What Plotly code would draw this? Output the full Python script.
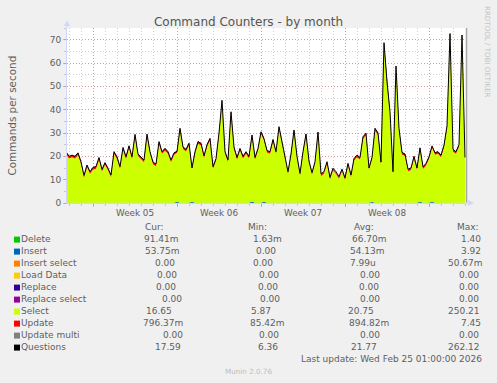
import plotly.graph_objects as go
import pandas as pd

# ---------------- data ----------------
questions = [
    22, 20, 20.5, 20, 21.5, 17.7, 11.8, 16.3, 13.4, 15.3,
    15.6, 19.5, 14.4, 17.3, 14.9, 12, 22, 19.8, 15.6, 23.8,
    19.8, 24.5, 19.8, 29.4, 21, 19.8, 18.4, 29.5, 22, 17.5,
    16.7, 26.3, 22, 23.4, 22, 18.4, 21.5, 22, 32, 24,
    23, 25.6, 15, 22, 26.3, 25.6, 20.2, 25, 27.7, 15.6,
    19, 30, 44, 22, 18.5, 39.1, 24, 19.5, 23.4, 20,
    22, 20, 29.1, 19.5, 23.4, 30.5, 27.5, 22.5, 22, 27.2,
    22, 32.7, 26, 20, 13.4, 21, 31.3, 20, 12.7, 22,
    29.6, 18, 13, 17.7, 30.4, 12.5, 13.5, 17.7, 11, 14.9,
    13.4, 11.3, 14.5, 10.8, 17, 12, 19.1, 20.5, 19.5, 28.4,
    29.9, 15, 19.5, 32, 30, 17.5, 68.7, 52, 39.1, 13.4,
    58.7, 32, 21.7, 21, 14.5, 15, 20, 15, 23.6, 15.5,
    17, 19.8, 24.3, 21.6, 22, 20.5, 24.8, 33, 72.6, 23,
    22, 25, 72, 19.5,
]
select = [
    21, 19, 19.5, 19, 20.5, 16.7, 10.8, 15.3, 12.4, 14.3,
    14.6, 18.5, 13.4, 16.3, 13.9, 11, 21, 18.8, 14.6, 22.8,
    18.8, 23.5, 18.8, 28.4, 20, 18.8, 17.4, 28.5, 21, 16.5,
    15.7, 25.3, 21, 22.4, 21, 17.4, 20.5, 21, 31, 23,
    22, 24.6, 14, 21, 25.3, 24.6, 19.2, 24, 26.7, 14.6,
    18, 29, 43, 21, 17.5, 38.1, 23, 18.5, 22.4, 19,
    21, 19, 28.1, 18.5, 22.4, 29.5, 26.5, 21.5, 21, 26.2,
    21, 31.7, 25, 19, 12.4, 20, 30.3, 19, 11.7, 21,
    28.6, 17, 12, 16.7, 29.4, 11.5, 12.5, 16.7, 10, 13.9,
    12.4, 10.3, 13.5, 9.8, 16, 11, 18.1, 19.5, 18.5, 27.4,
    28.9, 14, 18.5, 31, 29, 16.5, 67.7, 51, 38.1, 12.4,
    57.7, 31, 20.7, 20, 13.5, 14, 19, 14, 22.6, 14.5,
    16, 18.8, 23.3, 20.6, 21, 19.5, 23.8, 32, 71.6, 22,
    21, 24, 71, 18.5,
]
update = [
    0.9, 0.8, 0.9, 1.0, 0.9, 0.8, 0.7, 0.9, 0.8, 0.8,
    0.9, 0.9, 0.8, 0.9, 0.8, 0.7, 1.0, 0.9, 0.8, 1.0,
    0.9, 1.0, 0.9, 1.1, 0.9, 0.9, 0.8, 1.1, 0.9, 0.8,
    0.8, 1.0, 0.9, 1.0, 0.9, 0.8, 0.9, 0.9, 1.1, 1.0,
    0.9, 1.0, 0.8, 0.9, 1.0, 1.0, 0.9, 1.0, 1.0, 0.8,
    0.9, 1.0, 1.2, 0.9, 0.8, 1.1, 1.0, 0.9, 0.9, 0.9,
    0.9, 0.9, 1.0, 0.9, 0.9, 1.1, 1.0, 0.9, 0.9, 1.0,
    0.9, 1.1, 1.0, 0.9, 0.7, 0.9, 1.0, 0.9, 0.7, 0.9,
    1.0, 0.8, 0.7, 0.8, 1.0, 0.7, 0.7, 0.8, 0.7, 0.8,
    0.7, 0.7, 0.8, 0.7, 0.8, 0.7, 0.8, 0.9, 0.8, 0.9,
    1.0, 0.8, 0.9, 1.0, 1.0, 0.8, 1.1, 1.0, 0.9, 0.7,
    1.0, 0.9, 0.9, 0.9, 0.8, 0.8, 0.9, 0.8, 0.9, 0.8,
    0.8, 0.9, 1.0, 0.9, 0.9, 0.9, 0.9, 1.0, 1.2, 0.9,
    0.9, 0.9, 1.1, 0.8,
]
delete = [
    0.07, 0.06, 0.07, 0.08, 0.07, 0.06, 0.05, 0.07, 0.06, 0.06,
    0.07, 0.07, 0.06, 0.07, 0.06, 0.05, 0.08, 0.07, 0.06, 0.08,
    0.07, 0.08, 0.07, 0.09, 0.07, 0.07, 0.06, 0.09, 0.07, 0.06,
    0.06, 0.08, 0.07, 0.08, 0.07, 0.06, 0.07, 0.07, 0.09, 0.08,
    0.07, 0.08, 0.06, 0.07, 0.08, 0.08, 0.07, 0.08, 0.08, 0.06,
    0.07, 0.08, 0.10, 0.07, 0.06, 0.09, 0.08, 0.07, 0.07, 0.07,
    0.07, 0.07, 0.08, 0.07, 0.07, 0.09, 0.08, 0.07, 0.07, 0.08,
    0.07, 0.09, 0.08, 0.07, 0.05, 0.07, 0.08, 0.07, 0.05, 0.07,
    0.08, 0.06, 0.05, 0.06, 0.08, 0.05, 0.05, 0.06, 0.05, 0.06,
    0.05, 0.05, 0.06, 0.05, 0.06, 0.05, 0.06, 0.07, 0.06, 0.07,
    0.08, 0.06, 0.07, 0.08, 0.08, 0.06, 0.09, 0.08, 0.07, 0.05,
    0.08, 0.07, 0.07, 0.07, 0.06, 0.06, 0.07, 0.06, 0.07, 0.06,
    0.06, 0.07, 0.08, 0.07, 0.07, 0.07, 0.07, 0.08, 0.10, 0.07,
    0.07, 0.07, 0.09, 0.09,
]
insert = [
    0.04, 0.03, 0.04, 0.04, 0.03, 0.03, 0.02, 0.03, 0.03, 0.03,
    0.04, 0.04, 0.03, 0.04, 0.03, 0.03, 0.04, 0.04, 0.03, 0.04,
    0.04, 0.04, 0.04, 0.05, 0.04, 0.04, 0.03, 0.05, 0.04, 0.03,
    0.03, 0.04, 0.04, 0.04, 0.04, 0.03, 0.04, 0.60, 0.05, 0.04,
    0.04, 0.04, 0.55, 0.04, 0.04, 0.04, 0.04, 0.04, 0.04, 0.03,
    0.04, 0.04, 0.05, 0.04, 0.03, 0.05, 0.04, 0.04, 0.04, 0.04,
    0.04, 0.04, 0.55, 0.04, 0.04, 0.05, 0.45, 0.04, 0.04, 0.04,
    0.04, 0.05, 0.04, 0.04, 0.03, 0.04, 0.04, 0.04, 0.03, 0.04,
    0.04, 0.03, 0.03, 0.03, 0.04, 0.03, 0.03, 0.03, 0.03, 0.03,
    0.03, 0.03, 0.03, 0.03, 0.03, 0.03, 0.03, 0.04, 0.03, 0.04,
    0.04, 0.03, 0.50, 0.04, 0.04, 0.03, 0.05, 0.04, 0.04, 0.03,
    0.04, 0.04, 0.04, 0.04, 0.03, 0.03, 0.04, 0.03, 0.60, 0.03,
    0.03, 0.04, 0.60, 0.04, 0.04, 0.04, 0.04, 0.04, 0.05, 0.04,
    0.04, 0.04, 0.05, 0.05,
]
series_start = "2026-01-23 18:00"
series_step = "6h"

week_starts = ["2026-01-26", "2026-02-02", "2026-02-09", "2026-02-16", "2026-02-23"]
week_label_pos = ["2026-01-29 12:00", "2026-02-05 12:00", "2026-02-12 12:00", "2026-02-19 12:00"]
week_labels = ["Week 05", "Week 06", "Week 07", "Week 08"]
y_ticks = [0, 10, 20, 30, 40, 50, 60, 70]

legend_names = ["Delete", "Insert", "Insert select", "Load Data", "Replace",
                "Replace select", "Select", "Update", "Update multi", "Questions"]
legend_colors = ["#00CC00", "#0066B3", "#FF8000", "#FFCC00", "#330099",
                 "#990099", "#CCFF00", "#FF0000", "#808080", "#000000"]
cur_vals = ["91.41m", "53.75m", "0.00", "0.00", "0.00", "0.00", "16.65", "796.37m", "0.00", "17.59"]
min_vals = ["1.63m", "0.00", "0.00", "0.00", "0.00", "0.00", "5.87", "85.42m", "0.00", "6.36"]
avg_vals = ["66.70m", "54.13m", "7.99u", "0.00", "0.00", "0.00", "20.75", "894.82m", "0.00", "21.77"]
max_vals = ["1.40", "3.92", "50.67m", "0.00", "0.00", "0.00", "250.21", "7.45", "0.00", "262.12"]

# ---------------- layout geometry (pixels) ----------------
W, H = 497, 383
L, R, T, B = 67, 466, 28, 203


def fx(x):
    return (x - L) / (R - L)


def fy(y):
    return (B - y) / (B - T)


FONT = "DejaVu Sans"
TXT = "#5e5e5e"
AXIS = "#CFD6F8"
MGRID = "rgba(225,100,100,0.5)"
GRID = "rgba(150,150,150,0.45)"
DOTS = "1px,2px"

times = pd.date_range(series_start, periods=len(questions), freq=series_step)

fig = go.Figure()
for name, vals, color in [("Delete", delete, "#00CC00"), ("Insert", insert, "#0066B3"),
                          ("Select", select, "#CCFF00"), ("Update", update, "#FF0000")]:
    fig.add_trace(go.Scatter(x=times, y=vals, name=name, stackgroup="s", mode="lines",
                             line=dict(width=0, color=color), fillcolor=color,
                             showlegend=False, hoverinfo="skip"))
fig.add_trace(go.Scatter(x=times, y=questions, name="Questions", mode="lines",
                         line=dict(width=1, color="#000000"), xaxis="x2",
                         showlegend=False, hoverinfo="skip"))

x_range = ["2026-01-23 20:00", "2026-02-26 02:00"]

fig.update_layout(
    width=W, height=H,
    margin=dict(l=L, r=W - R, t=T, b=H - B, pad=0),
    paper_bgcolor="#F0F0F0", plot_bgcolor="#FFFFFF",
    font=dict(family=FONT, color=TXT, size=9),
    title=dict(text="Command Counters - by month", x=0.5, xref="container", xanchor="center",
               y=1 - 21.5 / H, yref="container", yanchor="middle",
               font=dict(family=FONT, size=12, color="#555555")),
    xaxis=dict(type="date", range=x_range, tickmode="array", tickvals=week_starts,
               ticktext=[""] * len(week_starts), showgrid=True, gridcolor=MGRID,
               griddash=DOTS, gridwidth=1, ticks="outside", ticklen=3, tickcolor=MGRID,
               showline=True, linecolor=AXIS, linewidth=1, zeroline=False,
               minor=dict(tickmode="linear", tick0="2026-01-26", dtick=86400000,
                          showgrid=True, gridcolor=GRID, griddash=DOTS, gridwidth=1,
                          ticks="outside", ticklen=2, tickcolor=GRID),
               layer="below traces"),
    xaxis2=dict(type="date", overlaying="x", matches="x", anchor="y", side="bottom",
                range=x_range, tickmode="array", tickvals=week_label_pos, ticktext=week_labels,
                showgrid=False, ticks="", showline=False, zeroline=False,
                ticklabelstandoff=3,
                tickfont=dict(family=FONT, size=8.8, color=TXT)),
    yaxis=dict(range=[0, 75], tickmode="array", tickvals=y_ticks, showgrid=True,
               gridcolor=MGRID, griddash=DOTS, gridwidth=1, ticks="outside", ticklen=3,
               tickcolor=MGRID, showline=True, linecolor=AXIS, linewidth=1, zeroline=False,
               tickfont=dict(family=FONT, size=9, color=TXT),
               minor=dict(tickmode="linear", tick0=0, dtick=5, showgrid=True,
                          gridcolor=GRID, griddash=DOTS, gridwidth=1,
                          ticks="outside", ticklen=2, tickcolor=GRID),
               layer="below traces"),
)

shapes = []
# right edge rule
shapes.append(dict(type="line", xref="paper", yref="paper", x0=fx(466.5), x1=fx(466.5),
                   y0=fy(203), y1=fy(28), line=dict(color="#A8A8A8", width=1.5)))
# axis arrows
shapes.append(dict(type="line", xref="paper", yref="paper", x0=fx(67), x1=fx(67),
                   y0=fy(28), y1=fy(24), line=dict(color=AXIS, width=1)))
shapes.append(dict(type="path", xref="paper", yref="paper",
                   path=f"M {fx(64)},{fy(26)} L {fx(67)},{fy(20.5)} L {fx(70)},{fy(26)} Z",
                   fillcolor=AXIS, line=dict(width=0)))
shapes.append(dict(type="line", xref="paper", yref="paper", x0=fx(466), x1=fx(469),
                   y0=fy(203), y1=fy(203), line=dict(color=AXIS, width=1)))
shapes.append(dict(type="path", xref="paper", yref="paper",
                   path=f"M {fx(468)},{fy(200)} L {fx(474)},{fy(203)} L {fx(468)},{fy(206)} Z",
                   fillcolor=AXIS, line=dict(width=0)))

# legend table geometry
row_y = [239.3 + 12 * i for i in range(len(legend_names))]
head_y = 226.7
cur_x = [143.3, 144, 154, 155.7, 155.3, 160.7, 145.3, 142.3, 161.7, 154]
min_x = [251.7, 255, 251.7, 258.3, 256.7, 259.3, 250, 249, 258.3, 257.3]
avg_x = [351, 349.3, 349.3, 359.3, 357.7, 359.3, 347.3, 348.3, 359.3, 350]
max_x = [460, 460, 446.7, 458.3, 458.3, 458.3, 447.3, 460, 458.3, 447.3]
heads = [("Cur:", 144), ("Min:", 247.3), ("Avg:", 352.7), ("Max:", 456)]

ann = []


def text(t, x, y, size=9, color=TXT, xanchor="left", angle=0):
    ann.append(dict(text=t, x=fx(x), y=fy(y), xref="paper", yref="paper", showarrow=False,
                    xanchor=xanchor, yanchor="middle", textangle=angle, borderpad=0,
                    font=dict(family=FONT, size=size, color=color)))


for i, name in enumerate(legend_names):
    yc = row_y[i]
    shapes.append(dict(type="rect", xref="paper", yref="paper", x0=fx(14), x1=fx(20),
                       y0=fy(yc + 3.3), y1=fy(yc - 2.7), fillcolor=legend_colors[i],
                       line=dict(width=0)))
    text(name, 20.3, yc)
    text(cur_vals[i], cur_x[i], yc)
    text(min_vals[i], min_x[i], yc)
    text(avg_vals[i], avg_x[i], yc)
    text(max_vals[i], max_x[i], yc)
for h, x in heads:
    text(h, x, head_y)

text("Last update: Wed Feb 25 01:00:00 2026", 482.5, 359, xanchor="right")
text("Munin 2.0.76", 248.5, 371, size=7.2, color="#BDBDBD", xanchor="center")
text("Commands per second", 11, 115.5, size=10.4, xanchor="center", angle=-90)
text("RRDTOOL / TOBI OETIKER", 488, 51, size=7.1, color="#C4C4C4", xanchor="center", angle=90)

fig.update_layout(shapes=shapes, annotations=ann)
fig.write_html("out.html", config={"displayModeBar": False},
               post_script="document.body.style.margin='0px';document.body.style.overflow='hidden';")
